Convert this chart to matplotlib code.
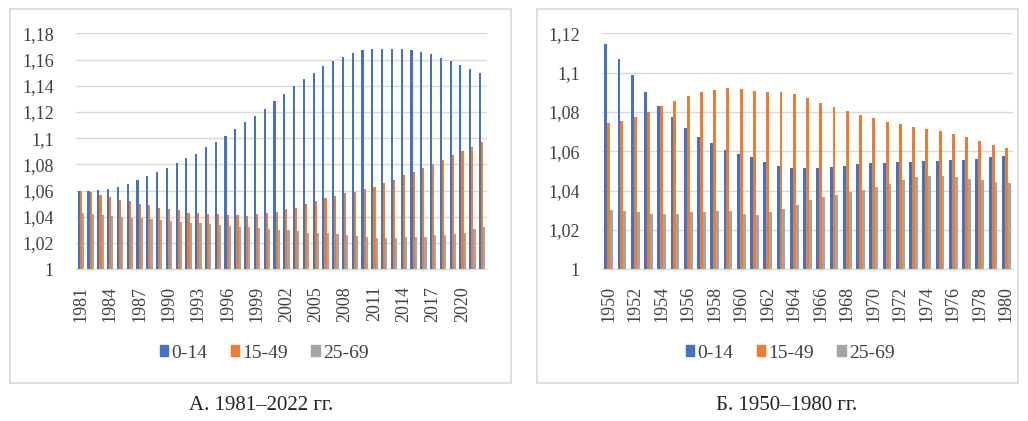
import matplotlib
matplotlib.use('Agg')
import matplotlib.pyplot as plt
import matplotlib.ticker as plticker
from matplotlib.patches import Rectangle, Patch
import numpy as np

# Daten: Panel A, 1981-2022
jahre_a = list(range(1981, 2023))
a_0_14 = [1.060, 1.060, 1.0605, 1.061, 1.063, 1.065, 1.068, 1.071, 1.074, 1.077,
          1.081, 1.085, 1.088, 1.093, 1.097, 1.102, 1.107, 1.112, 1.117, 1.122,
          1.128, 1.134, 1.140, 1.145, 1.150, 1.155, 1.159, 1.162, 1.165, 1.167,
          1.168, 1.168, 1.168, 1.168, 1.167, 1.166, 1.164, 1.161, 1.159, 1.156,
          1.153, 1.150]
a_15_49 = [1.060, 1.0587, 1.057, 1.055, 1.053, 1.052, 1.050, 1.049, 1.047, 1.046,
           1.0455, 1.043, 1.043, 1.042, 1.042, 1.0415, 1.0415, 1.041, 1.042, 1.043,
           1.044, 1.046, 1.047, 1.050, 1.052, 1.054, 1.056, 1.058, 1.059, 1.061,
           1.063, 1.066, 1.068, 1.072, 1.074, 1.077, 1.080, 1.083, 1.087, 1.090,
           1.0935, 1.0973]
a_25_69 = [1.043, 1.042, 1.0415, 1.041, 1.040, 1.0395, 1.039, 1.038, 1.0375, 1.037,
           1.036, 1.0355, 1.035, 1.0345, 1.034, 1.033, 1.0325, 1.032, 1.0315, 1.031,
           1.030, 1.030, 1.029, 1.028, 1.028, 1.0275, 1.027, 1.026, 1.0255, 1.0245,
           1.024, 1.024, 1.024, 1.025, 1.025, 1.025, 1.026, 1.026, 1.027, 1.028,
           1.0305, 1.0325]

# Daten: Panel B, 1950-1980
jahre_b = list(range(1950, 1981))
b_0_14 = [1.1144, 1.107, 1.0988, 1.0903, 1.0832, 1.0773, 1.072, 1.0675, 1.064, 1.0605,
          1.0585, 1.057, 1.0544, 1.0525, 1.0514, 1.0516, 1.0517, 1.0522, 1.0527, 1.0534,
          1.0539, 1.054, 1.0546, 1.0547, 1.055, 1.0552, 1.0554, 1.0556, 1.0563, 1.057,
          1.0576]
b_15_49 = [1.0744, 1.0754, 1.0776, 1.0802, 1.0832, 1.0856, 1.088, 1.0902, 1.0912, 1.092,
           1.0915, 1.0907, 1.0903, 1.0903, 1.0892, 1.087, 1.0847, 1.0825, 1.0806, 1.0785,
           1.077, 1.0751, 1.0737, 1.0725, 1.0715, 1.0705, 1.0688, 1.0673, 1.065, 1.0632,
           1.0617]
b_25_69 = [1.0303, 1.0295, 1.029, 1.0283, 1.0283, 1.0283, 1.029, 1.0292, 1.0295, 1.0295,
           1.0283, 1.0276, 1.029, 1.0307, 1.0329, 1.0351, 1.0366, 1.0378, 1.0393, 1.0403,
           1.0419, 1.0434, 1.0453, 1.0469, 1.0476, 1.0473, 1.0469, 1.0459, 1.0453, 1.0446,
           1.0439]

gruppen = ['0-14', '15-49', '25-69']
farben = ['#4472C4', '#ED7D31', '#A5A5A5']
captions = ['А. 1981–2022 гг.', 'Б. 1950–1980 гг.']

serif = ['Liberation Serif', 'DejaVu Serif']
grid_color = '#D9D9D9'

W, H = 1028, 421
fig = plt.figure(figsize=(W/100, H/100), dpi=100)


def px_box(x0, x1, ytop, ybot):
    return [x0/W, (H - ybot)/H, (x1 - x0)/W, (ybot - ytop)/H]


def comma_fmt(v, pos):
    return f'{round(v, 2):g}'.replace('.', ',')


panels = [
    dict(jahre=jahre_a, serien=[a_0_14, a_15_49, a_25_69], ymax=1.18, step=3,
         ax_px=(76, 487), box_px=(10, 511), legend_x=264, caption_x=261),
    dict(jahre=jahre_b, serien=[b_0_14, b_15_49, b_25_69], ymax=1.12, step=2,
         ax_px=(602, 1013), box_px=(537, 1018), legend_x=790, caption_x=787),
]

width = 0.22
for p, cap in zip(panels, captions):
    # Rahmen um das Diagramm
    bx0, bx1 = p['box_px']
    fig.patches.append(Rectangle(((bx0)/W, (H - 383)/H), (bx1 - bx0)/W, (383 - 9)/H,
                                 transform=fig.transFigure, fill=False,
                                 edgecolor=grid_color, linewidth=1.2))

    ax = fig.add_axes(px_box(p['ax_px'][0], p['ax_px'][1], 33.3, 269.3))
    x = np.arange(len(p['jahre']))
    for i, (serie, farbe) in enumerate(zip(p['serien'], farben)):
        ax.bar(x + (i - 1)*width, np.array(serie) - 1.0, width, bottom=1.0,
               color=farbe, label=gruppen[i])

    ax.set_xlim(-0.5, len(x) - 0.5)
    ax.set_ylim(1.0, p['ymax'])
    ax.yaxis.set_major_locator(plticker.MultipleLocator(0.02))
    ax.yaxis.set_major_formatter(plticker.FuncFormatter(comma_fmt))
    ax.grid(axis='y', color=grid_color, linewidth=1)
    ax.set_axisbelow(True)
    for s in ['top', 'left', 'right']:
        ax.spines[s].set_visible(False)
    ax.spines['bottom'].set_color(grid_color)

    ax.set_xticks(x[::p['step']], [str(j) for j in p['jahre'][::p['step']]], rotation=90)
    ax.tick_params(axis='both', length=0, labelsize=13, colors='#404040')
    ax.tick_params(axis='y', pad=16)
    ax.tick_params(axis='x', pad=12)
    for lab in ax.get_xticklabels() + ax.get_yticklabels():
        lab.set_family(serif)

    handles = [Patch(color=f, label=g) for f, g in zip(farben, gruppen)]
    fig.legend(handles=handles, loc='center', ncol=3,
               bbox_to_anchor=(p['legend_x']/W, (H - 353)/H),
               frameon=False, prop={'family': serif, 'size': 14},
               handlelength=0.45, handleheight=0.45, handletextpad=0.15,
               columnspacing=1.2, labelcolor='#404040')

    fig.text(p['caption_x']/W, (H - 405)/H, cap, ha='center', va='center',
             family=serif, fontsize=15, color='#222222')

fig.savefig('out.png', dpi=100)
